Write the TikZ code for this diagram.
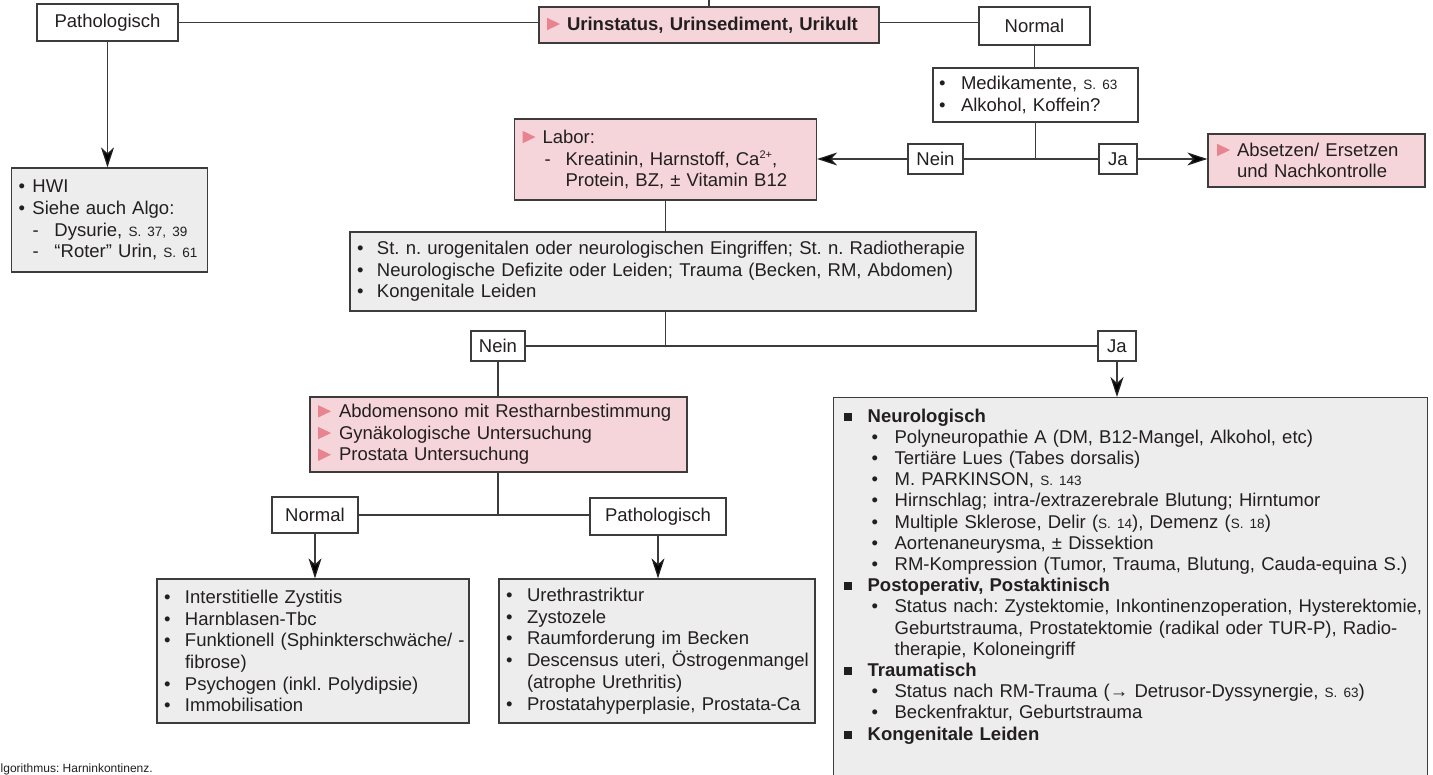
\documentclass[tikz,border=0pt]{standalone}
\usepackage{fontspec}
\setmainfont{Liberation Sans}
\usetikzlibrary{arrows.meta}

\definecolor{ink}{HTML}{231F20}
\definecolor{frame}{HTML}{3C3C3C}
\definecolor{pinkfill}{HTML}{F5D5D9}
\definecolor{pinkmark}{HTML}{E8848F}
\definecolor{greyfill}{HTML}{EDEDED}

\frenchspacing
% pink pointer in front of each examination step
\newcommand{\stepmark}{\tikz[baseline=0pt,x=1pt,y=1pt]\fill[pinkmark] (0,0) -- (0,12.5) -- (13,6.25) -- cycle;}
% small filled square in front of the cause groups
\newcommand{\headmark}{\textcolor{ink}{\rule[1.5pt]{8pt}{8pt}}}
% page references are set smaller
\newcommand{\pref}[1]{{\fontsize{13.5}{13.5}\selectfont #1}}
% small raised charge sign
\newcommand{\charge}[1]{\raisebox{6.5pt}{\fontsize{11}{11}\selectfont #1}}
% one list line: marker in a box of given width, then the text, never broken
\newcommand{\li}[3]{\mbox{\makebox[#1][l]{#2}#3}}

\begin{document}
\begin{tikzpicture}[x=1pt,y=-1pt,
  base/.style={draw=frame, line width=1.3pt, text=ink, inner sep=0pt,
               font=\fontsize{18.5}{21.7}\selectfont},
  tag/.style={base, fill=white, align=center},
  wbox/.style={base, fill=white, align=left},
  pbox/.style={base, fill=pinkfill, align=left},
  gbox/.style={base, fill=greyfill, align=left},
  link/.style={draw=frame, line width=1.3pt},
  arr/.style={link, -{Stealth[length=20pt,width=13pt,inset=6pt,color=ink]}}]

\useasboundingbox (0,0) rectangle (1433,775);
\clip (0,0) rectangle (1433,775);
\fill[white] (0,0) rectangle (1433,775);

% ---- first level: urine tests
\node[tag, minimum width=141pt, minimum height=37pt] (patho1) at (107.5,22.5) {Pathologisch};
\node[pbox, text width=324pt, inner xsep=8pt, minimum height=36pt] (urin) at (709,25)
  {\li{20pt}{\stepmark}{\textbf{Urinstatus, Urinsediment, Urikult}}};
\node[tag, minimum width=111pt, minimum height=38pt] (normal1) at (1034.5,26) {Normal};
\coordinate (topend) at (709,0);

% ---- normal urine: drugs and stimulants
\node[wbox, text width=193pt, inner xsep=6pt, minimum height=54pt] (medi) at (1035.5,95)
  {\li{22pt}{•}{Medikamente, \pref{S. 63}}\\
   \li{22pt}{•}{Alkohol, Koffein?}};
\node[tag, minimum width=55pt, minimum height=30pt] (nein1) at (935.5,159) {Nein};
\node[tag, minimum width=38pt, minimum height=30pt] (ja1) at (1118,159) {Ja};
\node[pbox, text width=199pt, inner xsep=9pt, minimum height=53pt] (absetzen) at (1316.5,160.5)
  {\li{20pt}{\stepmark}{Absetzen/ Ersetzen}\\
   \hspace*{20pt}und Nachkontrolle};
\node[pbox, text width=286pt, inner xsep=8pt, minimum height=81pt] (labor) at (665.5,159.5)
  {\li{20pt}{\stepmark}{Labor:}\\
   \hspace*{22pt}\li{21pt}{-}{Kreatinin, Harnstoff, Ca\charge{2+},}\\
   \hspace*{43pt}Protein, BZ, ± Vitamin B12};

% ---- pathological urine
\node[gbox, text width=182pt, inner xsep=7pt, minimum height=104pt] (hwi) at (109.5,220)
  {\li{14pt}{•}{HWI}\\
   \li{14pt}{•}{Siehe auch Algo:}\\
   \hspace*{14pt}\li{22pt}{-}{Dysurie, \pref{S. 37, 39}}\\
   \hspace*{14pt}\li{22pt}{-}{“Roter” Urin, \pref{S. 61}}};

% ---- history question
\node[gbox, text width=612pt, inner xsep=7pt, minimum height=79pt] (stn) at (663,271.5)
  {\li{20pt}{•}{St. n. urogenitalen oder neurologischen Eingriffen; St. n. Radiotherapie}\\
   \li{20pt}{•}{Neurologische Defizite oder Leiden; Trauma (Becken, RM, Abdomen)}\\
   \li{20pt}{•}{Kongenitale Leiden}};
\node[tag, minimum width=54pt, minimum height=30pt] (nein2) at (498,346) {Nein};
\node[tag, minimum width=38pt, minimum height=30pt] (ja2) at (1117,346) {Ja};

% ---- no relevant history: imaging and examinations
\node[pbox, text width=361pt, inner xsep=8pt, minimum height=75pt] (abdo) at (498.5,434.5)
  {\li{21pt}{\stepmark}{Abdomensono mit Restharnbestimmung}\\
   \li{21pt}{\stepmark}{Gynäkologische Untersuchung}\\
   \li{21pt}{\stepmark}{Prostata Untersuchung}};
\node[tag, minimum width=86pt, minimum height=36pt] (normal2) at (315,515) {Normal};
\node[tag, minimum width=136pt, minimum height=37pt] (patho3) at (658,516.5) {Pathologisch};

\node[gbox, text width=298pt, inner xsep=7pt, minimum height=144pt] (lowL) at (313,651)
  {\li{21pt}{•}{Interstitielle Zystitis}\\
   \li{21pt}{•}{Harnblasen-Tbc}\\
   \li{21pt}{•}{Funktionell (Sphinkterschwäche/ -}\\
   \hspace*{21pt}fibrose)\\
   \li{21pt}{•}{Psychogen (inkl. Polydipsie)}\\
   \li{21pt}{•}{Immobilisation}};
\node[gbox, text width=302pt, inner xsep=7pt, minimum height=144pt] (lowR) at (657,651)
  {\li{21pt}{•}{Urethrastriktur}\\
   \li{21pt}{•}{Zystozele}\\
   \li{21pt}{•}{Raumforderung im Becken}\\
   \li{21pt}{•}{Descensus uteri, Östrogenmangel}\\
   \hspace*{21pt}(atrophe Urethritis)\\
   \li{21pt}{•}{Prostatahyperplasie, Prostata-Ca}};

% ---- relevant history: list of causes (runs on below the page edge)
\node[gbox, anchor=north west, text width=574pt, inner xsep=10pt, inner ysep=11pt,
      font=\fontsize{18.5}{21.2}\selectfont] (big) at (833,397)
  {\li{24pt}{\headmark}{\textbf{Neurologisch}}\\
   \hspace*{28pt}\li{23pt}{•}{Polyneuropathie A (DM, B12-Mangel, Alkohol, etc)}\\
   \hspace*{28pt}\li{23pt}{•}{Tertiäre Lues (Tabes dorsalis)}\\
   \hspace*{28pt}\li{23pt}{•}{M. PARKINSON, \pref{S. 143}}\\
   \hspace*{28pt}\li{23pt}{•}{Hirnschlag; intra-/extrazerebrale Blutung; Hirntumor}\\
   \hspace*{28pt}\li{23pt}{•}{Multiple Sklerose, Delir (\pref{S. 14}), Demenz (\pref{S. 18})}\\
   \hspace*{28pt}\li{23pt}{•}{Aortenaneurysma, ± Dissektion}\\
   \hspace*{28pt}\li{23pt}{•}{RM-Kompression (Tumor, Trauma, Blutung, Cauda-equina S.)}\\
   \li{24pt}{\headmark}{\textbf{Postoperativ, Postaktinisch}}\\
   \hspace*{28pt}\li{23pt}{•}{Status nach: Zystektomie, Inkontinenzoperation, Hysterektomie,}\\
   \hspace*{51pt}Geburtstrauma, Prostatektomie (radikal oder TUR-P), Radio-\\
   \hspace*{51pt}therapie, Koloneingriff\\
   \li{24pt}{\headmark}{\textbf{Traumatisch}}\\
   \hspace*{28pt}\li{23pt}{•}{Status nach RM-Trauma (→ Detrusor-Dyssynergie, \pref{S. 63})}\\
   \hspace*{28pt}\li{23pt}{•}{Beckenfraktur, Geburtstrauma}\\
   \li{24pt}{\headmark}{\textbf{Kongenitale Leiden}}\\
   \mbox{}\\
   \mbox{}};

\node[anchor=base west, inner sep=0pt, text=ink, font=\fontsize{12}{12}\selectfont]
  (caption) at (0.5,772) {lgorithmus: Harninkontinenz.};

% ---- connectors
\draw[link] (topend) -- (urin.north);
\draw[link] (patho1.east) -- (urin.west |- patho1.east);
\draw[link] (urin.east |- patho1.east) -- (normal1.west |- patho1.east);
\draw[link] (normal1.south) -- (normal1.south |- medi.north);
\coordinate (j1) at (medi.south |- nein1.east);
\draw[link] (medi.south) -- (j1);
\draw[link] (nein1.east) -- (j1) -- (ja1.west);
\draw[arr] (nein1.west) -- (labor.east |- nein1.west);
\draw[arr] (ja1.east) -- (absetzen.west |- ja1.east);
\draw[arr] (patho1.south) -- (patho1.south |- hwi.north);
\draw[link] (labor.south) -- (labor.south |- stn.north);
\coordinate (j2) at (labor.south |- nein2.east);
\draw[link] (j2 |- stn.south) -- (j2);
\draw[link] (nein2.east) -- (j2) -- (ja2.west);
\draw[arr] (ja2.south) -- (ja2.south |- big.north);
\draw[link] (nein2.south) -- (nein2.south |- abdo.north);
\coordinate (j3) at (nein2.south |- normal2.east);
\draw[link] (j3 |- abdo.south) -- (j3);
\draw[link] (normal2.east) -- (j3) -- (patho3.west |- normal2.east);
\draw[arr] (normal2.south) -- (normal2.south |- lowL.north);
\draw[arr] (patho3.south) -- (patho3.south |- lowR.north);
\end{tikzpicture}
\end{document}
